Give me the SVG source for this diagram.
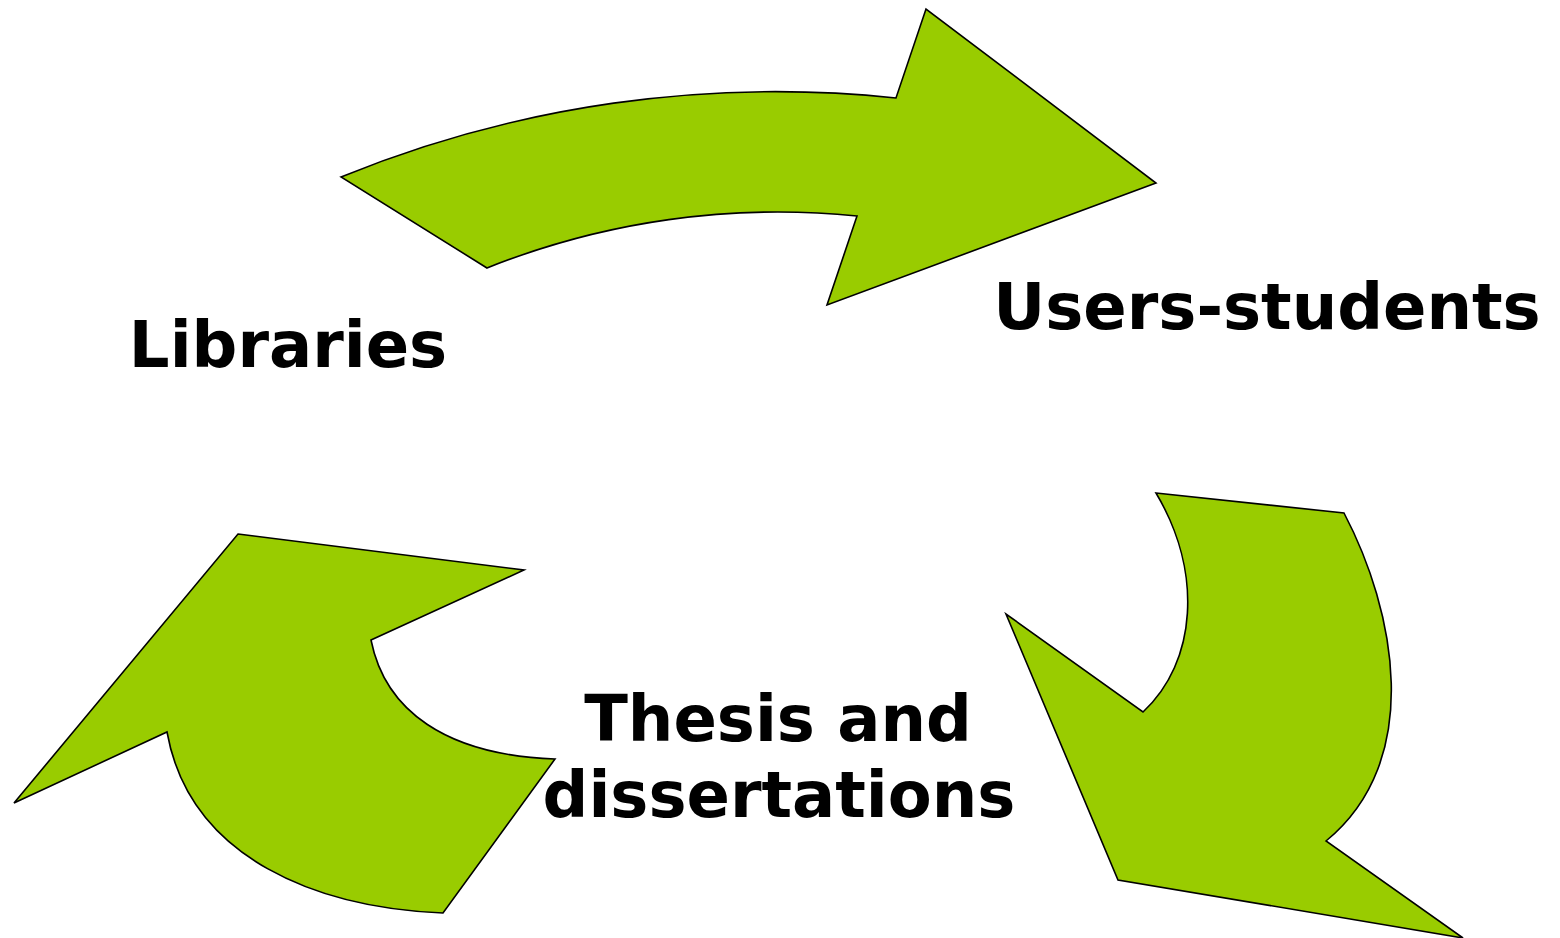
<svg xmlns="http://www.w3.org/2000/svg" width="1560" height="938" viewBox="0 0 1560 938">
<style>
.arrow{fill:#99cc00;stroke:#000;stroke-width:1.6;stroke-linejoin:miter}
.lbl{font-family:"DejaVu Sans",sans-serif;font-weight:bold;font-size:64px;fill:#000;text-anchor:middle}
</style>
<rect width="1560" height="938" fill="#fff"/>
<g id="connectors">
<path id="arrow-top" class="arrow" d="M341,177 A1150,1150 0 0 1 896,98 L926,9 L1156,183 L827,305 L857,216 A784,784 0 0 0 487,268 Z"/>
<path id="arrow-right" class="arrow" d="M1156,493 L1344,513 C1395,610 1425,760 1326,841 L1463,938 L1118,880 L1006,614 L1143,712 C1197,662 1203,572 1156,493 Z"/>
<path id="arrow-left" class="arrow" d="M238,534 L524,570 L371,640 C385,710 445,755 555,759 L443,913 C320,908 190,860 167,732 L14,803 Z"/>
</g>
<g id="node-libraries"><text class="lbl" x="288" y="367">Libraries</text></g>
<g id="node-users"><text class="lbl" x="1267" y="329">Users-students</text></g>
<g id="node-thesis"><text class="lbl" x="778" y="741">Thesis and</text><text class="lbl" x="779" y="817">dissertations</text></g>
</svg>
